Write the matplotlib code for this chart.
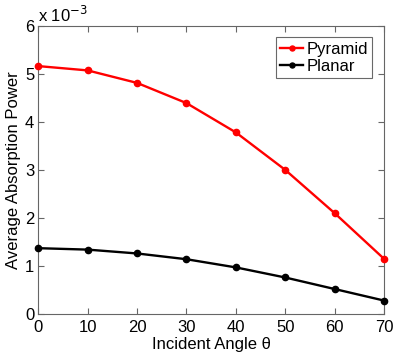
import matplotlib
matplotlib.use("Agg")
import matplotlib.pyplot as plt
from matplotlib.ticker import MultipleLocator

angles = [0, 10, 20, 30, 40, 50, 60, 70]
pyramid = [5.16, 5.07, 4.81, 4.39, 3.78, 3.00, 2.10, 1.15]
planar = [1.37, 1.34, 1.26, 1.14, 0.97, 0.76, 0.52, 0.28]

plt.rcParams['font.family'] = ['Liberation Sans', 'DejaVu Sans']
fig = plt.figure(figsize=(3.93, 3.55), dpi=100)
ax = fig.add_axes([0.0975, 0.1155, 0.8795, 0.812])

ax.plot(angles, pyramid, '-o', color='red', lw=1.7, ms=4.5, label='Pyramid', clip_on=False, zorder=3)
ax.plot(angles, planar, '-o', color='black', lw=1.7, ms=4.5, label='Planar', clip_on=False, zorder=3)

ax.set_xlim(0, 70)
ax.set_ylim(0, 6)
ax.xaxis.set_major_locator(MultipleLocator(10))
ax.yaxis.set_major_locator(MultipleLocator(1))
ax.tick_params(direction='in', top=True, right=True, labelsize=12, length=4, color='#666666')
ax.tick_params(axis='x', pad=4)
ax.tick_params(axis='y', pad=3)
for s in ax.spines.values():
    s.set_color('#666666')
    s.set_linewidth(0.8)

ax.set_xlabel('Incident Angle \u03b8', fontsize=12, labelpad=2)
ax.set_ylabel('Average Absorption Power', fontsize=12, labelpad=3)
ax.text(0.0, 1.003, r'x 10$^{-3}$', transform=ax.transAxes, fontsize=12, va='bottom', ha='left')

leg = ax.legend(loc='upper right', fontsize=12, frameon=True, fancybox=False, borderpad=0.25,
                handlelength=1.4, handletextpad=0.2, labelspacing=0.15, borderaxespad=0.7,
                markerscale=0.8)
leg.get_frame().set_edgecolor('#444444')
leg.get_frame().set_linewidth(0.8)

fig.savefig('out.png', dpi=100)
